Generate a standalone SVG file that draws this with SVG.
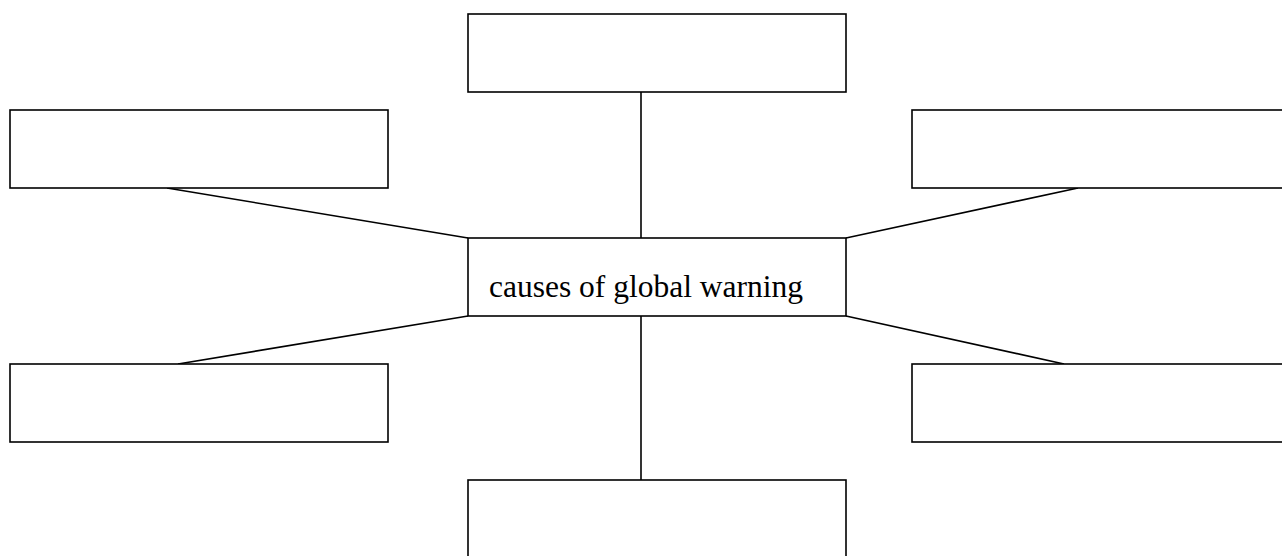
<svg xmlns="http://www.w3.org/2000/svg" width="1282" height="556" viewBox="0 0 1282 556">
<style>
.box{fill:#fff;stroke:#000;stroke-width:1.6}
.ln{stroke:#000;stroke-width:1.6;fill:none}
.lbl{font-family:"Liberation Serif","Times New Roman",serif;font-size:31.5px;fill:#000}
</style>
<rect width="1282" height="556" fill="#fff"/>
<g id="connectors">
<line class="ln" x1="641" y1="92" x2="641" y2="238"/>
<line class="ln" x1="641" y1="316" x2="641" y2="480"/>
<line class="ln" x1="167" y1="188" x2="468" y2="238"/>
<line class="ln" x1="1078" y1="188" x2="846" y2="238"/>
<line class="ln" x1="178" y1="364" x2="468" y2="316"/>
<line class="ln" x1="1064" y1="364" x2="846" y2="316"/>
</g>
<g id="node-top"><rect class="box" x="468" y="14" width="378" height="78"/></g>
<g id="node-top-left"><rect class="box" x="10" y="110" width="378" height="78"/></g>
<g id="node-top-right"><rect class="box" x="912" y="110" width="378" height="78"/></g>
<g id="node-center"><rect class="box" x="468" y="238" width="378" height="78"/>
<text class="lbl" x="489" y="297">causes of global warning</text></g>
<g id="node-bottom-left"><rect class="box" x="10" y="364" width="378" height="78"/></g>
<g id="node-bottom-right"><rect class="box" x="912" y="364" width="378" height="78"/></g>
<g id="node-bottom"><rect class="box" x="468" y="480" width="378" height="90"/></g>
</svg>
